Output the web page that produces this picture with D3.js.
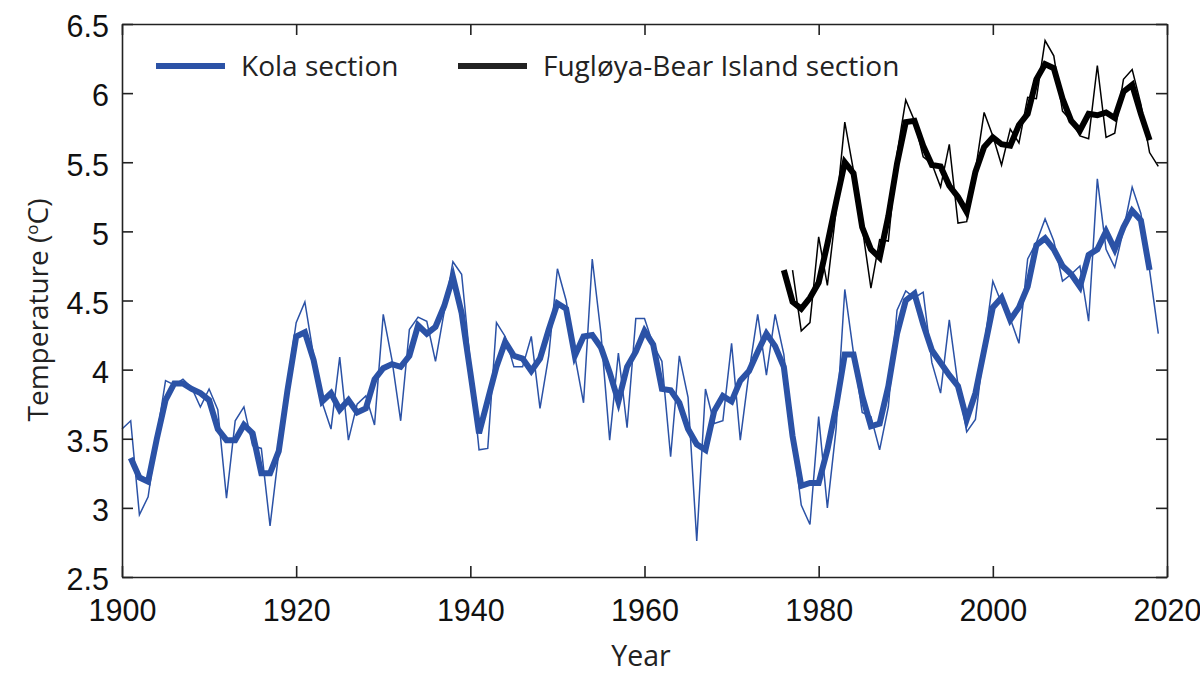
<html>
  <head>
    <meta charset="utf-8">
    <title>Kola and Fugloya-Bear Island temperature</title>
    <script type="text/javascript" src="https://cdn.jsdelivr.net/npm/d3@7/dist/d3.min.js"></script>
    <style>
      html, body { margin: 0; background: #fff; }
      svg { display: block; }
    </style>
  </head>
  <body>
    <svg></svg>
    <script>
      'use strict';

      // tick labels
      const yearTicks = [1900, 1920, 1940, 1960, 1980, 2000, 2020];
      const tempTicks = [2.5, 3, 3.5, 4, 4.5, 5, 5.5, 6, 6.5];

      // Kola section, yearly values 1900-2019
      const kolaYearly = [3.57, 3.63, 2.95, 3.08, 3.52, 3.92, 3.89, 3.93, 3.87, 3.73,
        3.86, 3.71, 3.07, 3.63, 3.73, 3.45, 3.43, 2.87, 3.4, 3.9,
        4.34, 4.49, 4.1, 3.76, 3.57, 4.09, 3.49, 3.75, 3.81, 3.6,
        4.4, 4.07, 3.63, 4.29, 4.38, 4.35, 4.06, 4.42, 4.78, 4.69,
        4.05, 3.42, 3.43, 4.34, 4.24, 4.02, 4.02, 4.24, 3.72, 4.1,
        4.73, 4.5, 4.1, 3.76, 4.8, 4.26, 3.49, 4.12, 3.58, 4.37,
        4.37, 4.18, 4.06, 3.37, 4.1, 3.8, 2.76, 3.86, 3.61, 3.63,
        4.19, 3.49, 3.98, 4.4, 3.96, 4.4, 4.11, 3.52, 3.02, 2.88,
        3.66, 3.0, 3.57, 4.58, 4.12, 3.69, 3.66, 3.42, 3.73, 4.43,
        4.57, 4.52, 4.56, 4.05, 3.83, 4.36, 3.89, 3.55, 3.64, 4.17,
        4.64, 4.48, 4.37, 4.19, 4.8, 4.92, 5.09, 4.93, 4.64, 4.69,
        4.75, 4.35, 5.38, 4.87, 4.74, 5.01, 5.32, 5.13, 4.72, 4.26];

      // Kola section, smoothed values 1901-2018
      const kolaSmooth = [3.36, 3.22, 3.19, 3.5, 3.78, 3.9, 3.9, 3.86, 3.83,
        3.78, 3.57, 3.49, 3.49, 3.6, 3.54, 3.25, 3.25, 3.41, 3.85,
        4.24, 4.27, 4.07, 3.77, 3.83, 3.71, 3.78, 3.69, 3.72, 3.93,
        4.01, 4.04, 4.02, 4.1, 4.32, 4.26, 4.31, 4.46, 4.67, 4.41,
        3.98, 3.54, 3.78, 4.02, 4.2, 4.1, 4.08, 3.99, 4.08, 4.29,
        4.48, 4.44, 4.1, 4.24, 4.25, 4.16, 3.98, 3.77, 4.02, 4.13,
        4.28, 4.18, 3.86, 3.85, 3.76, 3.57, 3.46, 3.42, 3.7, 3.81,
        3.77, 3.92, 3.99, 4.13, 4.26, 4.17, 4.02, 3.52, 3.16, 3.18,
        3.18, 3.42, 3.73, 4.11, 4.11, 3.81, 3.59, 3.61, 3.88, 4.26,
        4.5, 4.55, 4.33, 4.14, 4.05, 3.96, 3.88, 3.64, 3.83, 4.14,
        4.45, 4.52, 4.36, 4.45, 4.6, 4.9, 4.95, 4.87, 4.75, 4.69,
        4.6, 4.83, 4.87, 5.0, 4.87, 5.03, 5.15, 5.08, 4.72];

      // Fugloya-Bear Island section, yearly values 1977-2019
      const bearYearly = [4.72, 4.28, 4.34, 4.96, 4.61, 5.15, 5.79, 5.44, 5.03, 4.59,
        4.94, 4.93, 5.56, 5.95, 5.8, 5.54, 5.49, 5.32, 5.63, 5.06,
        5.07, 5.44, 5.86, 5.69, 5.48, 5.74, 5.64, 5.97, 5.96, 6.38,
        6.27, 5.87, 5.8, 5.69, 5.67, 6.2, 5.68, 5.71, 6.1, 6.17,
        5.92, 5.57, 5.47];

      // Fugloya-Bear Island section, smoothed values 1976-2018
      const bearSmooth = [4.72, 4.49, 4.44, 4.52, 4.63, 4.91, 5.21, 5.5, 5.42, 5.03,
        4.87, 4.81, 5.11, 5.49, 5.79, 5.8, 5.62, 5.48, 5.47, 5.33,
        5.25, 5.14, 5.43, 5.61, 5.68, 5.63, 5.62, 5.77, 5.85, 6.1,
        6.21, 6.18, 5.96, 5.8, 5.73, 5.85, 5.84, 5.86, 5.82, 6.01,
        6.06, 5.85, 5.66];

      const legendNames = ['Kola section', 'Fugløya-Bear Island section'];

      const blue = '#2b52a6';
      const black = '#000';
      const ink = '#222';
      const numberFont = '"Liberation Sans", Arial, sans-serif';
      const wordFont = '"Open Sans", "Noto Sans", sans-serif';

      const w = 1200;
      const h = 699;
      const plotLeft = 122;
      const plotRight = 1167;
      const plotTop = 24;
      const plotBottom = 577;

      const svg = d3.select('svg')
        .attr('width', w)
        .attr('height', h);

      const x = d3.scaleLinear().domain([1900, 2020]).range([plotLeft, plotRight]);
      const y = d3.scaleLinear().domain([2.5, 6.5]).range([plotBottom, plotTop]);

      // first year of an array goes in, the rest follow year by year
      function series(values, firstYear) {
        return values.map(function (v, i) {
          return { year: firstYear + i, value: v };
        });
      }

      const line = d3.line()
        .x(function (d) { return x(d.year); })
        .y(function (d) { return y(d.value); });

      // thin yearly lines go under, thick smoothed lines on top
      const lines = [
        { data: series(kolaYearly, 1900), color: blue, width: 1.5 },
        { data: series(bearYearly, 1977), color: black, width: 1.5 },
        { data: series(kolaSmooth, 1901), color: blue, width: 6 },
        { data: series(bearSmooth, 1976), color: black, width: 6 }
      ];

      svg.selectAll('path.series')
        .data(lines)
        .enter()
        .append('path')
        .attr('class', 'series')
        .attr('fill', 'none')
        .attr('stroke', function (d) { return d.color; })
        .attr('stroke-width', function (d) { return d.width; })
        .attr('stroke-linejoin', 'miter')
        .attr('d', function (d) { return line(d.data); });

      // axes on all four sides, ticks point inward
      function styleAxis(g) {
        g.selectAll('path, line').attr('stroke', ink).attr('stroke-width', 1.6);
        g.selectAll('text')
          .attr('fill', '#111')
          .attr('font-family', numberFont)
          .attr('font-size', 30.5);
      }

      svg.append('g')
        .attr('transform', 'translate(0,' + plotBottom + ')')
        .call(d3.axisBottom(x).tickValues(yearTicks).tickFormat(d3.format('d'))
          .tickSizeInner(-11).tickSizeOuter(0).tickPadding(22))
        .call(styleAxis);

      svg.append('g')
        .attr('transform', 'translate(' + plotLeft + ',0)')
        .call(d3.axisLeft(y).tickValues(tempTicks).tickFormat(d3.format('~g'))
          .tickSizeInner(-11).tickSizeOuter(0).tickPadding(13))
        .call(styleAxis)
        .selectAll('text')
        .attr('dy', '0.42em');

      svg.append('g')
        .attr('transform', 'translate(0,' + plotTop + ')')
        .call(d3.axisTop(x).tickValues(yearTicks).tickFormat('')
          .tickSizeInner(-11).tickSizeOuter(0))
        .call(styleAxis);

      svg.append('g')
        .attr('transform', 'translate(' + plotRight + ',0)')
        .call(d3.axisRight(y).tickValues(tempTicks).tickFormat('')
          .tickSizeInner(-11).tickSizeOuter(0))
        .call(styleAxis);

      // axis titles
      svg.append('text')
        .attr('x', 641)
        .attr('y', 666)
        .attr('text-anchor', 'middle')
        .attr('font-family', wordFont)
        .attr('font-size', 28.5)
        .attr('fill', ink)
        .text('Year');

      const yTitle = svg.append('text')
        .attr('transform', 'translate(48,310) rotate(-90)')
        .attr('text-anchor', 'middle')
        .attr('font-family', wordFont)
        .attr('font-size', 28)
        .attr('fill', ink);
      yTitle.append('tspan').text('Temperature (');
      yTitle.append('tspan').attr('font-size', 17).attr('dy', -10).text('o');
      yTitle.append('tspan').attr('dy', 10).text('C)');

      // legend
      const legend = svg.selectAll('g.legend')
        .data(legendNames)
        .enter()
        .append('g')
        .attr('class', 'legend')
        .attr('transform', function (d, i) {
          return 'translate(' + [156, 458][i] + ',66)';
        });

      legend.append('line')
        .attr('x1', 0)
        .attr('x2', 69)
        .attr('stroke', function (d, i) { return i === 0 ? blue : ink; })
        .attr('stroke-width', 6);

      legend.append('text')
        .attr('x', 85)
        .attr('y', 10)
        .attr('font-family', wordFont)
        .attr('font-size', 28)
        .attr('fill', ink)
        .text(function (d) { return d; });
    </script>
  </body>
</html>
